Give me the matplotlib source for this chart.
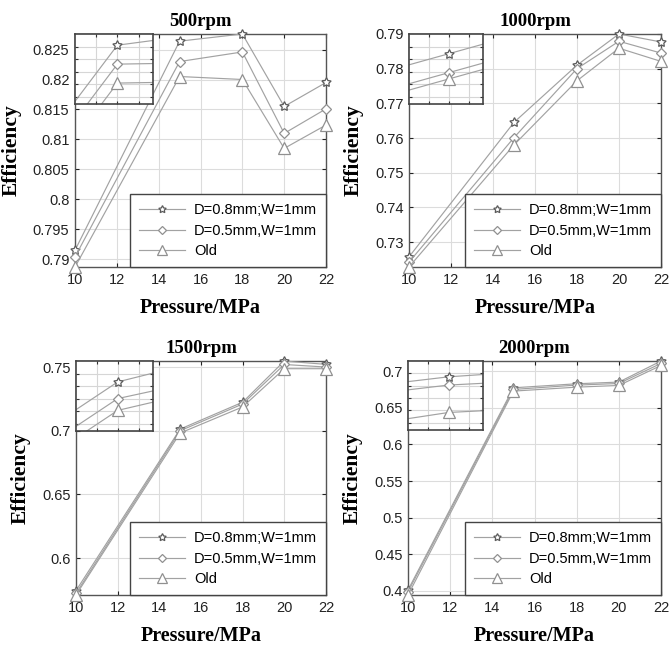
import numpy as np
import matplotlib
matplotlib.use("Agg")
import matplotlib.pyplot as plt
from matplotlib.ticker import FuncFormatter

pressure = [10, 15, 18, 20, 22]
series_names = ["D=0.8mm;W=1mm", "D=0.5mm,W=1mm", "Old"]
titles = ["500rpm", "1000rpm", "1500rpm", "2000rpm"]

# efficiency per speed, one list per groove design
eff_500 = [[0.7915, 0.8264, 0.8276, 0.8155, 0.8195],
           [0.7904, 0.8230, 0.8246, 0.8110, 0.8151],
           [0.7887, 0.8205, 0.8200, 0.8085, 0.8124]]
eff_1000 = [[0.7257, 0.7645, 0.7810, 0.7900, 0.7877],
            [0.7242, 0.7601, 0.7800, 0.7879, 0.7845],
            [0.7228, 0.7580, 0.7765, 0.7859, 0.7821]]
eff_1500 = [[0.5745, 0.7013, 0.7224, 0.7547, 0.7521],
            [0.5724, 0.7000, 0.7210, 0.7520, 0.7500],
            [0.5711, 0.6982, 0.7187, 0.7487, 0.7487]]
eff_2000 = [[0.4014, 0.6772, 0.6827, 0.6850, 0.7137],
            [0.3990, 0.6750, 0.6809, 0.6831, 0.7105],
            [0.3945, 0.6727, 0.6781, 0.6804, 0.7077]]

yticks_500 = np.arange(0.790, 0.8251, 0.005)
yticks_1000 = np.arange(0.73, 0.7901, 0.01)
yticks_1500 = np.arange(0.60, 0.7501, 0.05)
yticks_2000 = np.arange(0.40, 0.7001, 0.05)

# magnified detail box, relative height inside the box
inset_x = [10, 12, 14]
inset_500 = [[0.04, 0.84, 0.92], [-0.23, 0.57, 0.58], [-0.50, 0.30, 0.31]]
inset_1000 = [[0.56, 0.72, 0.88], [0.29, 0.45, 0.61], [0.20, 0.36, 0.52]]
inset_1500 = [[0.30, 0.70, 0.85], [0.06, 0.46, 0.59], [-0.11, 0.29, 0.43]]
inset_2000 = [[0.70, 0.77, 0.81], [0.58, 0.65, 0.68], [0.16, 0.25, 0.28]]

data = [eff_500, eff_1000, eff_1500, eff_2000]
yticks = [yticks_500, yticks_1000, yticks_1500, yticks_2000]
insets = [inset_500, inset_1000, inset_1500, inset_2000]

positions = [[0.112, 0.5867, 0.3746, 0.3607],
             [0.6104, 0.5867, 0.3761, 0.3607],
             [0.1134, 0.0789, 0.3731, 0.3622],
             [0.609, 0.0789, 0.3776, 0.3622]]
inset_boxes = [[0.0, 0.699, 0.312, 0.301],
               [0.0, 0.699, 0.295, 0.301],
               [0.0, 0.703, 0.309, 0.297],
               [0.0, 0.707, 0.297, 0.293]]

markers = [dict(marker=(5, 1, 0), ms=7, mec="#5a5a5a"),
           dict(marker="D", ms=5.5, mec="#909090"),
           dict(marker="^", ms=8.5, mec="#909090")]
line_col = "#a2a2a2"
serif = ["Liberation Serif", "DejaVu Serif"]

plt.rcParams["font.family"] = ["Liberation Sans", "DejaVu Sans"]
plt.rcParams["font.size"] = 10.5

fig = plt.figure(figsize=(6.7, 6.46), dpi=100)

for k in range(4):
    ax = fig.add_axes(positions[k])
    vals = data[k]
    for s in range(3):
        ax.plot(pressure, vals[s], color=line_col, lw=0.85, mfc="white",
                mew=0.9, label=series_names[s], clip_on=False, zorder=3,
                **markers[s])
    lo = min(min(v) for v in vals)
    hi = max(max(v) for v in vals)
    ax.set_xlim(10, 22)
    ax.set_ylim(lo, hi)
    ax.set_xticks(range(10, 23, 2))
    ax.set_yticks(yticks[k])
    ax.yaxis.set_major_formatter(FuncFormatter(lambda v, p: "%g" % round(v, 4)))
    ax.grid(True, color="#dcdcdc", lw=0.8)
    ax.set_axisbelow(True)
    ax.tick_params(direction="in", length=3, top=True, right=True,
                   colors="#222222", labelsize=10.5, pad=4)
    for sp in ax.spines.values():
        sp.set_color("#555555")
        sp.set_linewidth(1.0)
    ax.set_title(titles[k], family=serif, fontweight="bold", fontsize=13.5, pad=6)
    ax.set_xlabel("Pressure/MPa", family=serif, fontweight="bold", fontsize=14.5,
                  labelpad=8)
    ax.set_ylabel("Efficiency", family=serif, fontweight="bold", fontsize=15.5,
                  labelpad=8)
    leg = ax.legend(loc="lower right", borderaxespad=0, fancybox=False,
                    framealpha=1, edgecolor="#444444", fontsize=10.5,
                    handlelength=3.2, borderpad=0.6, labelspacing=0.45,
                    handletextpad=0.6, markerscale=0.8)
    leg.get_frame().set_linewidth(1.0)
    leg.set_zorder(5)

    # zoomed detail in the upper-left corner
    ins = ax.inset_axes(inset_boxes[k])
    ins.set_zorder(6)
    ins.set_facecolor("white")
    for s in range(3):
        ins.plot(inset_x, insets[k][s], color=line_col, lw=0.85, mfc="white",
                 mew=0.9, markevery=[1], **markers[s])
    ins.set_xlim(10, 13.7)
    ins.set_ylim(0, 1)
    ins.set_xticks([11, 12, 13])
    ins.set_yticks(np.arange(0.1, 1.0, 0.18))
    ins.grid(True, color="#d6d6d6", lw=0.8)
    ins.tick_params(direction="in", length=2.5, top=True, right=True,
                    labelbottom=False, labelleft=False, colors="#333333")
    for sp in ins.spines.values():
        sp.set_color("#444444")
        sp.set_linewidth(1.2)

fig.savefig("out.png", dpi=100)
